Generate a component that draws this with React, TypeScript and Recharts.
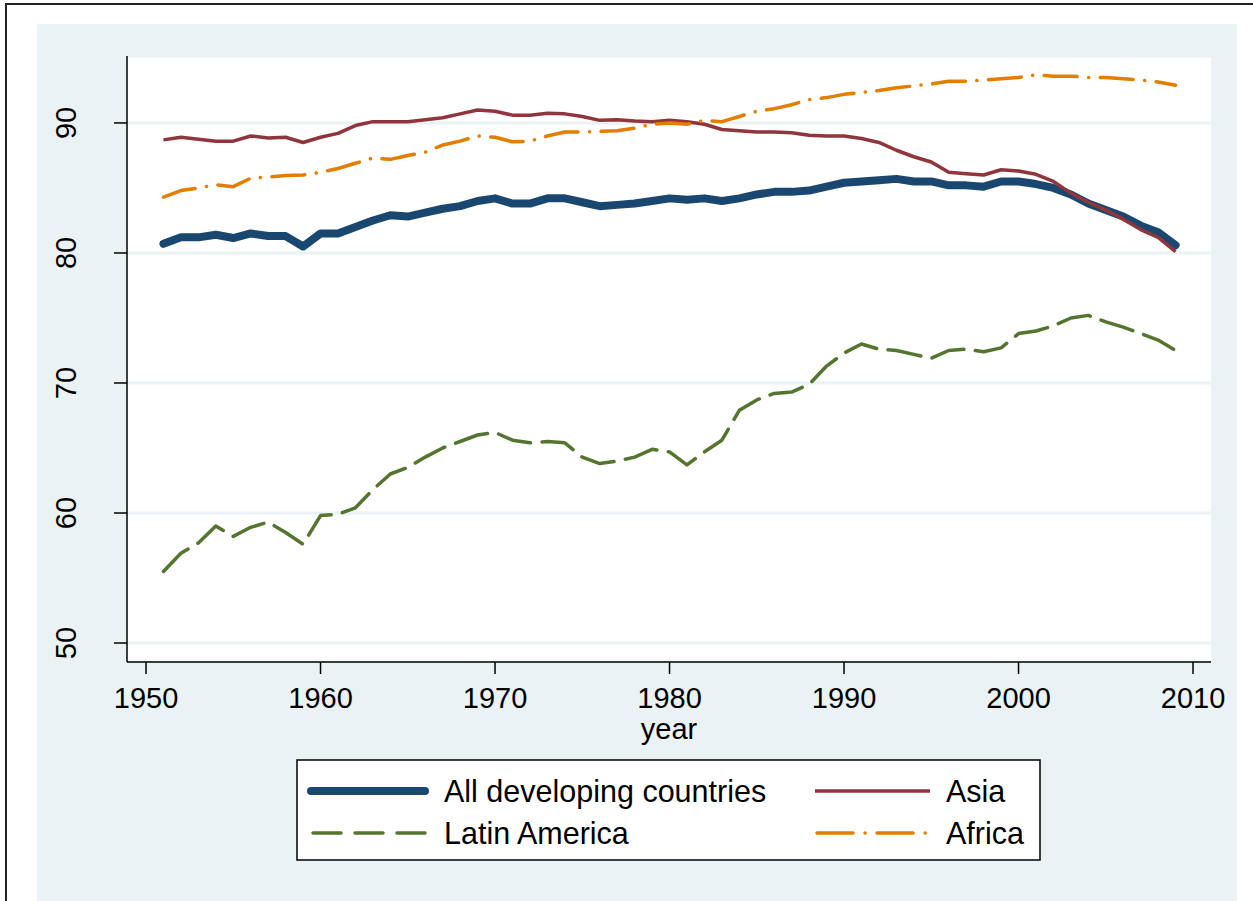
import React from "react"
import { LineChart, Line, XAxis, YAxis, CartesianGrid, Label } from "recharts"

const years = [
  1951, 1952, 1953, 1954, 1955, 1956, 1957, 1958, 1959, 1960,
  1961, 1962, 1963, 1964, 1965, 1966, 1967, 1968, 1969, 1970,
  1971, 1972, 1973, 1974, 1975, 1976, 1977, 1978, 1979, 1980,
  1981, 1982, 1983, 1984, 1985, 1986, 1987, 1988, 1989, 1990,
  1991, 1992, 1993, 1994, 1995, 1996, 1997, 1998, 1999, 2000,
  2001, 2002, 2003, 2004, 2005, 2006, 2007, 2008, 2009,
]

const allDeveloping = [
  80.7, 81.2, 81.2, 81.4, 81.15, 81.5, 81.3, 81.3, 80.5, 81.5,
  81.5, 82.0, 82.5, 82.9, 82.8, 83.1, 83.4, 83.6, 84.0, 84.2,
  83.8, 83.8, 84.2, 84.2, 83.9, 83.6, 83.7, 83.8, 84.0, 84.2,
  84.1, 84.2, 84.0, 84.2, 84.5, 84.7, 84.7, 84.8, 85.1, 85.4,
  85.5, 85.6, 85.7, 85.5, 85.5, 85.2, 85.2, 85.1, 85.5, 85.5,
  85.3, 85.0, 84.5, 83.8, 83.3, 82.8, 82.1, 81.6, 80.6,
]

const asia = [
  88.7, 88.9, 88.75, 88.6, 88.6, 89.0, 88.85, 88.9, 88.5, 88.9,
  89.2, 89.8, 90.1, 90.1, 90.1, 90.25, 90.4, 90.7, 91.0, 90.9,
  90.6, 90.6, 90.75, 90.7, 90.5, 90.2, 90.25, 90.15, 90.1, 90.2,
  90.1, 89.9, 89.5, 89.4, 89.3, 89.3, 89.25, 89.05, 89.0, 89.0,
  88.8, 88.5, 87.9, 87.4, 87.0, 86.2, 86.1, 86.0, 86.4, 86.3,
  86.05, 85.5, 84.6, 83.9, 83.3, 82.6, 81.8, 81.2, 80.1,
]

const latinAmerica = [
  55.5, 56.9, 57.7, 59.0, 58.2, 58.9, 59.3, 58.5, 57.6, 59.8,
  59.9, 60.4, 61.8, 63.0, 63.5, 64.3, 65.0, 65.5, 66.0, 66.2,
  65.6, 65.4, 65.5, 65.4, 64.3, 63.8, 64.0, 64.3, 64.9, 64.7,
  63.7, 64.7, 65.6, 67.9, 68.7, 69.2, 69.3, 69.9, 71.3, 72.3,
  73.0, 72.6, 72.5, 72.2, 71.9, 72.5, 72.6, 72.4, 72.7, 73.8,
  74.0, 74.4, 75.0, 75.2, 74.7, 74.3, 73.8, 73.3, 72.5,
]

const africa = [
  84.3, 84.8, 85.0, 85.25, 85.1, 85.75, 85.85, 85.95, 86.0, 86.2,
  86.5, 86.9, 87.3, 87.2, 87.5, 87.75, 88.3, 88.6, 89.0, 88.9,
  88.55, 88.6, 89.0, 89.3, 89.3, 89.35, 89.4, 89.6, 89.9, 90.0,
  89.9, 90.2, 90.1, 90.5, 90.9, 91.1, 91.4, 91.8, 91.95, 92.2,
  92.35, 92.5, 92.7, 92.85, 93.0, 93.2, 93.2, 93.3, 93.4, 93.5,
  93.7, 93.6, 93.6, 93.5, 93.5, 93.4, 93.3, 93.15, 92.9,
]

const xTicks = [1950, 1960, 1970, 1980, 1990, 2000, 2010]
const yTicks = [50, 60, 70, 80, 90]

const data = years.map((year, i) => ({
  year,
  all: allDeveloping[i],
  asia: asia[i],
  latin: latinAmerica[i],
  africa: africa[i],
}))

const FONT = "'Liberation Sans', Arial, Helvetica, sans-serif"
const NAVY = "#1a476f"
const MAROON = "#90353b"
const GREEN = "#55752f"
const ORANGE = "#e37e00"
const BG = "#eaf2f3"
const GREEN_DASH = "33.5 11.5"
const ORANGE_DASH = "33 11.5 0.1 11.5"

const YTick = (props: any) => {
  const { x, y, payload } = props
  const tx = x - 38
  return (
    <text x={tx} y={y} transform={`rotate(-90, ${tx}, ${y})`} textAnchor="middle"
      fontSize={29} fontFamily={FONT} fill="#000">
      {payload.value}
    </text>
  )
}

const XTick = (props: any) => {
  const { x, y, payload } = props
  return (
    <text x={x} y={y} dy={34} textAnchor="middle" fontSize={29} fontFamily={FONT} fill="#000">
      {payload.value}
    </text>
  )
}

function LegendBox() {
  const text = { fontSize: 30.5, fontFamily: FONT, fill: "#000" }
  return (
    <svg width={745} height={102} style={{ position: "absolute", left: 296, top: 759 }}>
      <rect x={1} y={1} width={743} height={100} fill="#fff" stroke="#000" strokeWidth={1.5} />
      <line x1={15} x2={129} y1={32} y2={32} stroke={NAVY} strokeWidth={8} strokeLinecap="round" />
      <text x={148} y={43} {...text}>All developing countries</text>
      <line x1={519} x2={634} y1={32} y2={32} stroke={MAROON} strokeWidth={3.5} />
      <text x={650} y={43} {...text}>Asia</text>
      <line x1={17} x2={129} y1={74} y2={74} stroke={GREEN} strokeWidth={3.5}
        strokeDasharray="28 14" strokeLinecap="round" />
      <text x={148} y={85} {...text}>Latin America</text>
      <line x1={521} x2={634} y1={74} y2={74} stroke={ORANGE} strokeWidth={3.5}
        strokeDasharray="36 12 0.1 12" strokeLinecap="round" />
      <text x={650} y={85} {...text}>Africa</text>
    </svg>
  )
}

export default function App() {
  return (
    <div style={{ position: "absolute", left: 0, top: 0, width: 1253, height: 901, background: "#fff", overflow: "hidden" }}>
      <div style={{ position: "absolute", left: 5, top: 3, width: 1300, height: 1000, border: "2px solid #222" }} />
      <div style={{ position: "absolute", left: 37, top: 24, width: 1200, height: 900, background: BG }} />
      <div style={{ position: "absolute", left: 0, top: 0 }}>
        <LineChart width={1253} height={901} data={data}
          margin={{ top: 56, right: 42, left: 37, bottom: 139 }}>
          <CartesianGrid vertical={false} stroke={BG} strokeWidth={3} fill="#fff" />
          <XAxis dataKey="year" type="number" domain={[1948.91, 2011.03]} ticks={xTicks}
            allowDataOverflow height={100} tickSize={12} tickMargin={0}
            axisLine={{ stroke: "#000", strokeWidth: 1.5 }} tickLine={{ stroke: "#000", strokeWidth: 1.5 }}
            tick={<XTick />}>
            <Label content={(p: any) => {
              const vb = p.viewBox
              return (
                <text x={vb.x + vb.width / 2} y={vb.y + 77} textAnchor="middle"
                  fontSize={29} fontFamily={FONT} fill="#000">year</text>
              )
            }} />
          </XAxis>
          <YAxis type="number" domain={[48.54, 95.15]} ticks={yTicks} allowDataOverflow
            width={90} tickSize={13} tickMargin={0}
            axisLine={{ stroke: "#000", strokeWidth: 1.5 }} tickLine={{ stroke: "#000", strokeWidth: 1.5 }}
            tick={<YTick />} />
          <Line dataKey="all" stroke={NAVY} strokeWidth={8} dot={false} isAnimationActive={false}
            strokeLinejoin="round" strokeLinecap="round" />
          <Line dataKey="asia" stroke={MAROON} strokeWidth={3.5} dot={false} isAnimationActive={false}
            strokeLinejoin="round" />
          <Line dataKey="latin" stroke={GREEN} strokeWidth={3.5} dot={false} isAnimationActive={false}
            strokeDasharray={GREEN_DASH} strokeLinecap="round" strokeLinejoin="round" />
          <Line dataKey="africa" stroke={ORANGE} strokeWidth={3.5} dot={false} isAnimationActive={false}
            strokeDasharray={ORANGE_DASH} strokeLinecap="round" strokeLinejoin="round" />
        </LineChart>
      </div>
      <LegendBox />
    </div>
  )
}
